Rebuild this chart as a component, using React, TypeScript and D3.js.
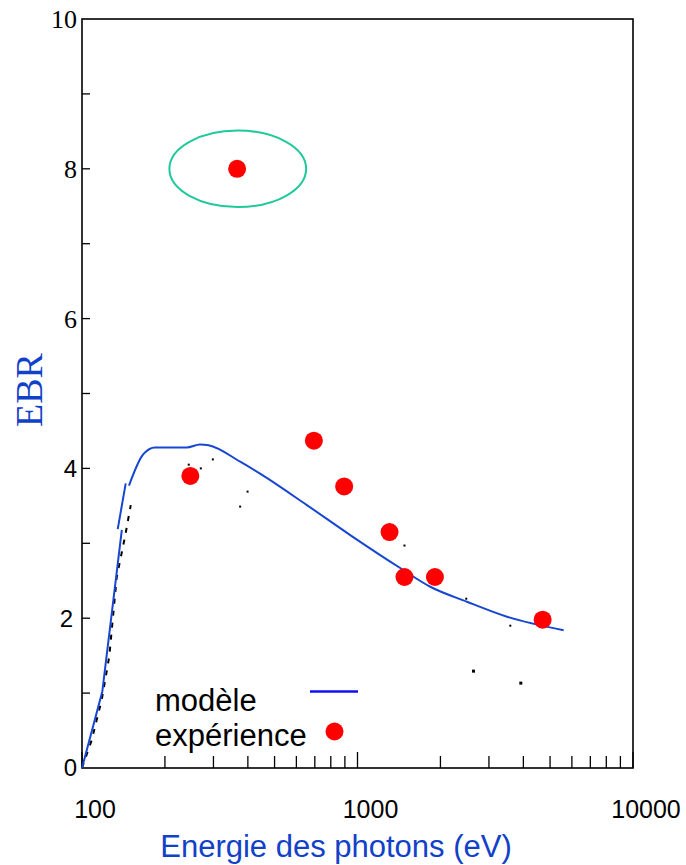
import React from 'react';
import * as d3 from 'd3';

// modèle : courbe bleue (trois morceaux séparés comme sur la figure)
const energyModelA = [100, 118.5, 139.5];
const ebrModelA = [0, 1.02, 3.18];
const energyModelB = [134.8, 144.1];
const ebrModelB = [3.19, 3.8];
const energyModelC = [148.1, 164.8, 168, 184, 240, 268, 288, 375, 443, 655, 941, 1429, 1837, 2497, 3489, 5602];
const ebrModelC = [3.77, 4.16, 4.2, 4.28, 4.28, 4.32, 4.31, 4.09, 3.93, 3.51, 3.11, 2.67, 2.42, 2.22, 2.02, 1.84];

// expérience : points rouges
const energyExp = [247.3, 694.5, 894.5, 1307, 1481, 1910, 4699];
const ebrExp = [3.9, 4.37, 3.76, 3.15, 2.55, 2.55, 1.98];

// point entouré
const energyCircled = [365.6];
const ebrCircled = [8.0];
const ellipseEnergy = [207.6, 651];
const ellipseEbr = [7.49, 8.51];

// traces noires résiduelles
const energyTrace = [100, 108.4, 117.9, 125.6, 133.7, 143.3, 150.3];
const ebrTrace = [0, 0.37, 0.91, 1.49, 2.55, 3.09, 3.51];
const energySpeck = [244, 270, 298.5, 399, 375, 1481, 2482, 3586, 2626, 3899];
const ebrSpeck = [4.05, 4.0, 4.12, 3.69, 3.49, 2.97, 2.26, 1.9, 1.3, 1.14];

const xTickLabels = [100, 1000, 10000];
const yTickLabels = [0, 2, 4, 6, 8, 10];

const W = 686;
const H = 865;
const left = 82;
const right = 633;
const top = 19;
const bottom = 768;

const BLUE = '#1746d1';
const TEXT_BLUE = '#1141c9';
const RED = '#ff0000';
const SANS = '"Liberation Sans", Arial, sans-serif';
const SERIF = '"Liberation Serif", "Times New Roman", serif';

const App = () => {
  const x = d3.scaleLog().domain([100, 10000]).range([left, right]);
  const y = d3.scaleLinear().domain([0, 10]).range([bottom, top]);

  const zip = (xs: number[], ys: number[]) => xs.map((v, i) => [v, ys[i]] as [number, number]);
  const line = d3.line<[number, number]>().x((d) => x(d[0])).y((d) => y(d[1]));
  const smooth = d3.line<[number, number]>().x((d) => x(d[0])).y((d) => y(d[1])).curve(d3.curveMonotoneX);

  const xMinor = x.ticks().filter((t) => !xTickLabels.includes(t));
  const yMinor = d3.range(1, 10);

  const ex0 = x(ellipseEnergy[0]);
  const ex1 = x(ellipseEnergy[1]);
  const ey0 = y(ellipseEbr[1]);
  const ey1 = y(ellipseEbr[0]);

  return (
    <svg width={W} height={H} style={{ position: 'absolute', left: 0, top: 0, background: '#fff' }}>
      {/* cadre */}
      <rect x={left} y={top} width={right - left} height={bottom - top} fill="none" stroke="#000" strokeWidth={1.6} />

      {/* graduations x */}
      {xMinor.map((t) => (
        <line key={'xm' + t} x1={x(t)} x2={x(t)} y1={bottom} y2={bottom - 12} stroke="#000" strokeWidth={1.3} />
      ))}
      {xTickLabels.map((t) => (
        <g key={'xl' + t}>
          <line x1={x(t)} x2={x(t)} y1={bottom} y2={bottom - 16} stroke="#000" strokeWidth={1.3} />
          <text x={x(t) + 13} y={818} textAnchor="middle" fontFamily={SANS} fontSize={25} fill="#000">
            {t}
          </text>
        </g>
      ))}

      {/* graduations y */}
      {yMinor.map((t) => (
        <line key={'ym' + t} x1={left} x2={left + 8} y1={y(t)} y2={y(t)} stroke="#000" strokeWidth={1.3} />
      ))}
      {yTickLabels.map((t) => (
        <text
          key={'yl' + t}
          x={t === 2 ? 73 : 77}
          y={y(t)}
          dy="0.35em"
          textAnchor="end"
          fontFamily={t >= 6 ? SERIF : SANS}
          fontSize={t >= 6 ? 26 : 24}
          fill="#000"
        >
          {t}
        </text>
      ))}

      {/* titres des axes */}
      <text x={336} y={857} textAnchor="middle" fontFamily={SANS} fontSize={31} fill={TEXT_BLUE}>
        Energie des photons (eV)
      </text>
      <text
        transform={`translate(42,390) rotate(-90)`}
        textAnchor="middle"
        fontFamily={SERIF}
        fontSize={38}
        fill={TEXT_BLUE}
      >
        EBR
      </text>

      {/* traces noires */}
      <path d={line(zip(energyTrace, ebrTrace)) ?? ''} fill="none" stroke="#000" strokeWidth={2} strokeDasharray="5,7" />
      {zip(energySpeck, ebrSpeck).map((d, i) => (
        <rect key={'s' + i} x={x(d[0]) - 1} y={y(d[1]) - 1} width={i > 7 ? 3 : 2} height={i > 7 ? 3 : 2} fill="#000" />
      ))}

      {/* modèle */}
      <path d={line(zip(energyModelA, ebrModelA)) ?? ''} fill="none" stroke={BLUE} strokeWidth={2} />
      <path d={line(zip(energyModelB, ebrModelB)) ?? ''} fill="none" stroke={BLUE} strokeWidth={2} />
      <path d={smooth(zip(energyModelC, ebrModelC)) ?? ''} fill="none" stroke={BLUE} strokeWidth={2} />

      {/* expérience */}
      {zip(energyExp, ebrExp).map((d, i) => (
        <circle key={'e' + i} cx={x(d[0])} cy={y(d[1])} r={9} fill={RED} />
      ))}
      {zip(energyCircled, ebrCircled).map((d, i) => (
        <circle key={'c' + i} cx={x(d[0])} cy={y(d[1])} r={9} fill={RED} />
      ))}
      <ellipse
        cx={(ex0 + ex1) / 2}
        cy={(ey0 + ey1) / 2}
        rx={(ex1 - ex0) / 2}
        ry={(ey1 - ey0) / 2}
        fill="none"
        stroke="#1fc99a"
        strokeWidth={2}
      />

      {/* légende */}
      <text x={155} y={711} fontFamily={SANS} fontSize={31} fill="#000">
        modèle
      </text>
      <line x1={310} x2={358} y1={691.5} y2={691.5} stroke="#1010f0" strokeWidth={2.5} />
      <text x={155} y={746} fontFamily={SANS} fontSize={31} fill="#000">
        expérience
      </text>
      <circle cx={334.5} cy={731.5} r={9} fill={RED} />
    </svg>
  );
};

export default App;
